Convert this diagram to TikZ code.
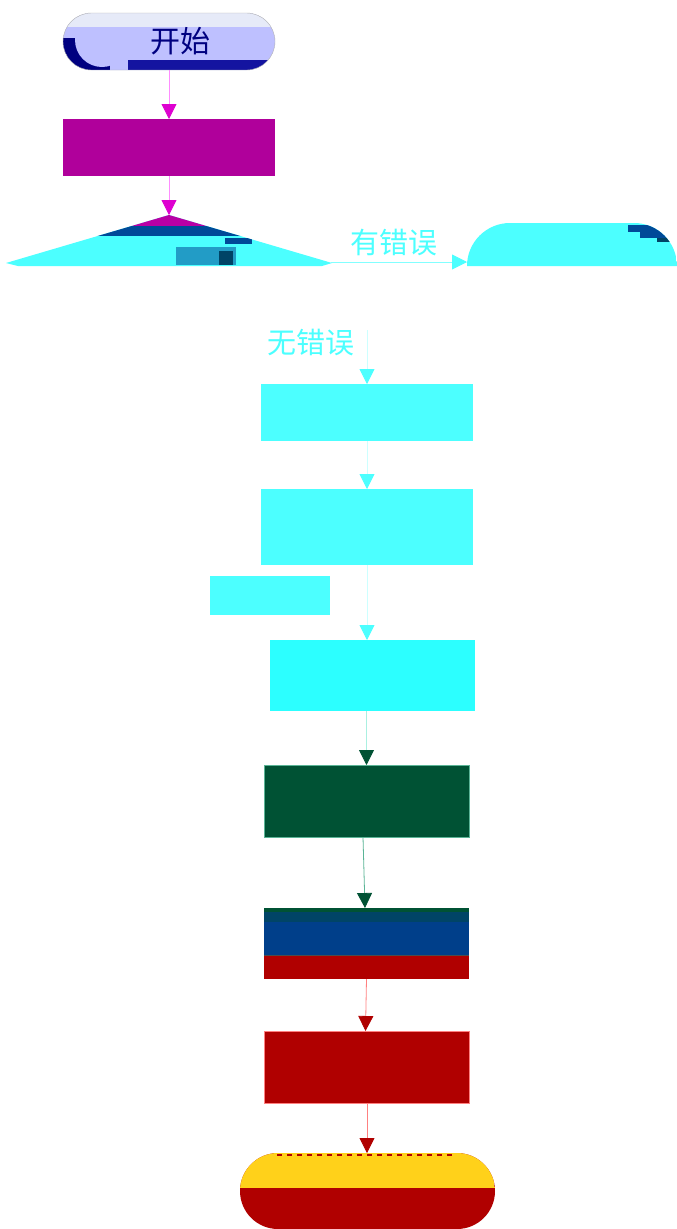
\documentclass[tikz,border=0pt]{standalone}
\usepackage{fontspec}
\newfontfamily\cjk{Noto Sans CJK SC}
\usetikzlibrary{arrows.meta}
\definecolor{cyanA}{RGB}{76,255,255}
\definecolor{cyanB}{RGB}{44,255,255}
\definecolor{cyanL}{RGB}{205,255,255}
\definecolor{cyanM}{RGB}{130,255,255}
\definecolor{lav}{RGB}{190,192,255}
\definecolor{lavL}{RGB}{230,234,248}
\definecolor{navy}{RGB}{0,0,128}
\definecolor{navyB}{RGB}{20,20,160}
\definecolor{magA}{RGB}{176,0,155}
\definecolor{magH}{RGB}{222,0,208}
\definecolor{pinkL}{RGB}{255,140,255}
\definecolor{blueA}{RGB}{0,63,138}
\definecolor{blueB}{RGB}{0,74,152}
\definecolor{greenA}{RGB}{0,82,52}
\definecolor{greenL}{RGB}{90,180,150}
\definecolor{tealL}{RGB}{170,240,225}
\definecolor{tealB}{RGB}{0,68,102}
\definecolor{redA}{RGB}{176,0,0}
\definecolor{redL}{RGB}{255,128,128}
\definecolor{yel}{RGB}{255,209,26}
\begin{document}
\begin{tikzpicture}[x=1pt,y=-1pt,
  boxn/.style={rectangle,inner sep=0pt,outer sep=0pt},
  arr/.style={line width=0.8pt,-{Triangle[width=15pt,length=15pt,color=#1]}},
  lbl/.style={font=\cjk\fontsize{29pt}{30pt}\selectfont,text=cyanA,inner sep=0pt}]
\useasboundingbox (0,0) rectangle (677,1229);
\fill[white] (0,0) rectangle (677,1229);

% start terminal
\node[boxn,fill=lav,draw=gray!60,thin,rounded corners=28.5pt,minimum width=212pt,minimum height=57pt,
  path picture={
    \fill[navy,sharp corners] ([yshift=32pt]path picture bounding box.south west) rectangle ([xshift=47pt]path picture bounding box.south west);
    \fill[lav] ([xshift=39pt,yshift=30pt]path picture bounding box.south west) circle[radius=27pt];
    \fill[lavL,sharp corners] (path picture bounding box.north west) rectangle ([yshift=-14pt]path picture bounding box.north east);
    \fill[navyB,sharp corners] ([xshift=65pt,yshift=10pt]path picture bounding box.south west) rectangle (path picture bounding box.south east);
  }] (start) at (169,41.5) {};
\node[inner sep=0pt,font=\cjk\fontsize{30pt}{31pt}\selectfont,text=navy] (starttxt) at (180,41) {开始};

% process 1
\node[boxn,fill=magA,minimum width=212pt,minimum height=57pt] (p1) at (169,147.5) {};

% decision (visible upper part)
\coordinate (dtop) at (169,215);
\coordinate (dR) at (331,262);
\begin{scope}
  \clip (169,215) -- (332,263) -- (322,266) -- (18,266) -- (6,263) -- cycle;
  \fill[cyanA] (0,210) rectangle (340,270);
  \fill[magA!80!magH] (0,210) rectangle (340,226);
  \fill[blueB] (0,226) rectangle (340,236);
  \fill[cyanA!45!blueB] (176,247) rectangle (236,265);
  \fill[tealB] (219,251) rectangle (233,265);
  \fill[blueB] (225,238) rectangle (252,244);
\end{scope}

% error terminal (visible upper part)
\coordinate (errL) at (467,262);
\begin{scope}
  \clip (467,266) arc[start angle=180,end angle=270,radius=43] -- (634,223) arc[start angle=270,end angle=360,radius=43] -- cycle;
  \fill[cyanA] (460,220) rectangle (680,270);
  \fill[blueB] (628,225) rectangle (680,232);
  \fill[blueB] (640,232) rectangle (680,238);
  \fill[tealB] (657,238) rectangle (680,242);
\end{scope}

% right branch
\draw[arr=cyanA,draw=cyanM] (dR) -- (errL);
\node[lbl] (yes) at (393.5,243) {有错误};

% no-error branch
\coordinate (okTop) at (367,330);
\node[lbl] (no) at (310.5,342.5) {无错误};

\node[boxn,fill=cyanA,minimum width=212pt,minimum height=57pt] (b2) at (367,412.5) {};
\node[boxn,fill=cyanA,minimum width=212pt,minimum height=76pt] (b3) at (367,527) {};
\node[boxn,fill=cyanA,minimum width=120pt,minimum height=39pt] (note) at (270,595.5) {};
\node[boxn,fill=cyanB,minimum width=205pt,minimum height=71pt] (b4) at (372.5,675.5) {};
\node[boxn,fill=greenA,draw=greenL,thin,minimum width=205pt,minimum height=72pt] (b5) at (366.5,801) {};
\node[boxn,fill=blueA,minimum width=205pt,minimum height=71pt,
  path picture={
    \fill[greenA] (path picture bounding box.north west) rectangle ([yshift=-4pt]path picture bounding box.north east);
    \fill[tealB] ([yshift=-4pt]path picture bounding box.north west) rectangle ([yshift=-14pt]path picture bounding box.north east);
    \fill[redA] ([yshift=23pt]path picture bounding box.south west) rectangle (path picture bounding box.south east);
    \fill[black!70] ([yshift=23pt]path picture bounding box.south west) rectangle ([yshift=24pt]path picture bounding box.south east);
  }] (b6) at (366.5,943.5) {};
\node[boxn,fill=redA,draw=redL,thin,minimum width=205pt,minimum height=72pt] (b7) at (366.5,1067) {};
\node[boxn,fill=redA,rounded corners=38pt,minimum width=255pt,minimum height=76pt,
  path picture={
    \fill[yel,sharp corners] (path picture bounding box.north west) rectangle ([yshift=-35pt]path picture bounding box.north east);
  }] (endt) at (367.5,1191) {};
\draw[redA,line width=1.5pt,dash pattern=on 5pt off 5pt] (277,1155) -- (455,1155);

% connectors
\draw[arr=magH,draw=pinkL] (start) -- (p1);
\draw[arr=magH,draw=pinkL] (p1) -- (dtop);
\draw[arr=cyanA,draw=cyanL] (okTop) -- (b2.north);
\draw[arr=cyanA,draw=cyanL] (b2) -- (b3);
\draw[arr=cyanA,draw=cyanL] (b3.south) -- (b3.south |- b4.north);
\draw[arr=greenA,draw=tealL] (b5.north |- b4.south) -- (b5.north);
\draw[arr=greenA,draw=greenL] ([xshift=-3.5pt]b5.south) -- ([xshift=-1.5pt]b6.north);
\draw[arr=redA,draw=redL] (b6.south) -- ([xshift=-1pt]b7.north);
\draw[arr=redA,draw=redL] ([xshift=0.5pt]b7.south) -- ([xshift=-0.5pt]endt.north);
\end{tikzpicture}
\end{document}
